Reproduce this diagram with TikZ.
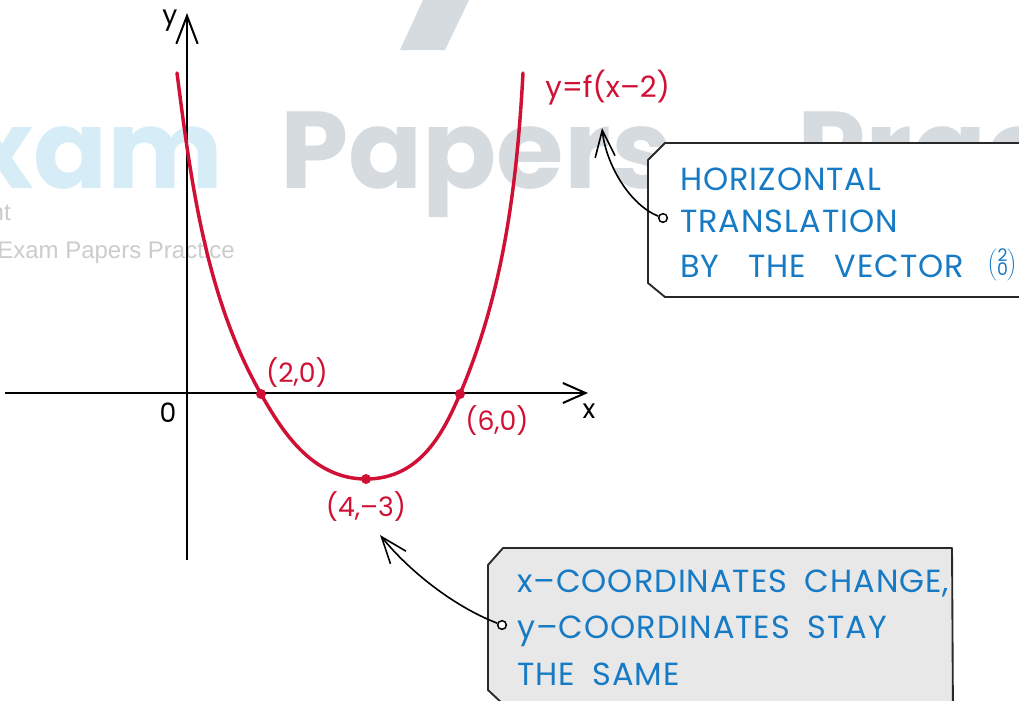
\documentclass[tikz,border=0pt]{standalone}
\usepackage{fontspec}
\setmainfont{Poppins}
\newfontfamily\hand[LetterSpace=3]{Poppins}
\newfontfamily\handlab{Poppins}
\newfontfamily\wmfont{Poppins}
\newfontfamily\wmsmall{Liberation Sans}
\newcommand\myboxfont{\hand\fontsize{24}{28}\selectfont\spaceskip 0.55em\relax}
\newcommand\myboxfontwide{\hand\fontsize{24}{28}\selectfont\spaceskip 0.9em\relax}
\usetikzlibrary{arrows.meta}
\definecolor{cred}{RGB}{208,16,52}
\definecolor{cblue}{RGB}{22,122,196}
\definecolor{wmblue}{RGB}{214,237,247}
\definecolor{wmgrey}{RGB}{214,219,224}
\definecolor{wmsgrey}{RGB}{204,204,204}
\definecolor{boxgrey}{RGB}{232,232,232}
\definecolor{boxline}{RGB}{40,40,40}
\tikzset{
  axis/.style={line width=1.5pt, black},
  curve/.style={line width=2.6pt, cred, line cap=round},
  rdot/.style={circle, fill=cred, inner sep=0pt, minimum size=7.5pt},
  lab/.style={text=cred, font=\handlab\fontsize{20}{24}\selectfont, inner sep=0pt},
  axlab/.style={text=black, font=\handlab\fontsize{20}{24}\selectfont, inner sep=0pt},
  boxtext/.style={text=cblue, font=\myboxfont, inner sep=0pt, anchor=base west},
  boxtextwide/.style={boxtext, font=\myboxfontwide},
  calloutbox/.style={draw=boxline, line width=1.4pt, line join=round},
  conn/.style={line width=1.2pt, black},
  ring/.style={circle, draw=black, line width=1.1pt, fill=white, inner sep=0pt, minimum size=6.5pt},
  wmbig/.style={font=\wmfont\bfseries\fontsize{82}{82}\selectfont, inner sep=0pt},
}
\begin{document}
\begin{tikzpicture}[x=0.75pt, y=-0.75pt]
\useasboundingbox (0,0) rectangle (1019,700);
\clip (0,0) rectangle (1019,700);
\fill[white] (0,0) rectangle (1019,700);
% watermark
\fill[wmgrey] (423,0) -- (469,0) -- (445,50) -- (400,50) -- cycle;
\node[wmbig, text=wmblue, anchor=base east] (wm1) at (224,188) {Exam};
\node[wmbig, text=wmgrey, anchor=base west] (wm2) at (280,188) {Papers};
\node[wmbig, text=wmgrey, anchor=base west] (wm3) at (797,188) {Practice};
\node[text=wmsgrey, font=\wmsmall\fontsize{18}{20}\selectfont, inner sep=0pt, anchor=base east] (wm4) at (11,220) {nt};
\node[text=wmsgrey, font=\wmsmall\fontsize{18}{20}\selectfont, inner sep=0pt, anchor=base west] (wm5) at (-3,258) {Exam Papers Practice};
% axes
\coordinate (xs) at (5,393);
\coordinate (xe) at (588,393);
\coordinate (ys) at (187,560);
\coordinate (ye) at (187,13);
\draw[axis, -{Straight Barb[length=17pt, width=15pt, line width=1.5pt]}] (xs) -- (xe);
\draw[axis, -{Straight Barb[length=21pt, width=16pt, line width=1.5pt]}] (ys) -- (ye);
\node[axlab] (xl) at (589,411) {x};
\node[axlab] (yl) at (170,21) {y};
\node[axlab] (ol) at (168,413) {0};
% curve
\node[rdot] (p20) at (261,394) {};
\node[rdot] (p60) at (460,394) {};
\node[rdot] (p43) at (366,479) {};
\coordinate (ctl) at (177,73);
\coordinate (ctr) at (523,73);
\draw[curve] (ctl) .. controls (191,182) and (206,298) .. (p20.center)
  .. controls (281,429) and (311,479) .. (p43.center)
  .. controls (421,479) and (444,431) .. (p60.center)
  .. controls (504,291) and (517,183) .. (ctr);
\node[lab] (l20) at (297,373) {(2,0)};
\node[lab] (l60) at (497,421) {(6,0)};
\node[lab] (l43) at (366,507) {(4,–3)};
\node[lab, font=\handlab\fontsize{22}{24}\selectfont, anchor=base west] (fl) at (545,97) {y=f(x–2)};
% callout box 1
\draw[calloutbox, fill=white] (1040,143) -- (665,143) -- (648,160) -- (648,283) -- (665,297) -- (1040,297);
\node[boxtext] (h1) at (680,190) {HORIZONTAL};
\node[boxtext] (h2) at (680,232) {TRANSLATION};
\node[boxtextwide] (h3) at (680,277) {BY THE VECTOR};
\node[text=cblue, inner sep=0pt, anchor=east] (vec) at (1018,265) {$\left(\vcenter{\hbox{\handlab\fontsize{13}{13}\selectfont\begin{tabular}{@{}c@{}}2\\[-3pt]0\end{tabular}}}\right)$};
% callout box 2
\draw[calloutbox, fill=boxgrey] (503,548) -- (952,548) -- (953,720) -- (520,720) -- (488,690) -- (488,565) -- cycle;
\node[boxtext] (b1) at (517,592) {x–COORDINATES CHANGE,};
\node[boxtext] (b2) at (517,638) {y–COORDINATES STAY};
\node[boxtext] (b3) at (517,685) {THE SAME};
% connectors
\node[ring] (c1) at (663,218) {};
\coordinate (t1) at (602,128);
\draw[conn, -{Straight Barb[length=20pt, width=15pt, line width=1.2pt]}] (c1) .. controls (630,205) and (606,165) .. (t1);
\node[ring] (c2) at (502,625) {};
\coordinate (t2) at (380,535);
\draw[conn, -{Straight Barb[length=20pt, width=15pt, line width=1.2pt]}] (c2) .. controls (455,607) and (410,572) .. (t2);
\end{tikzpicture}
\end{document}
